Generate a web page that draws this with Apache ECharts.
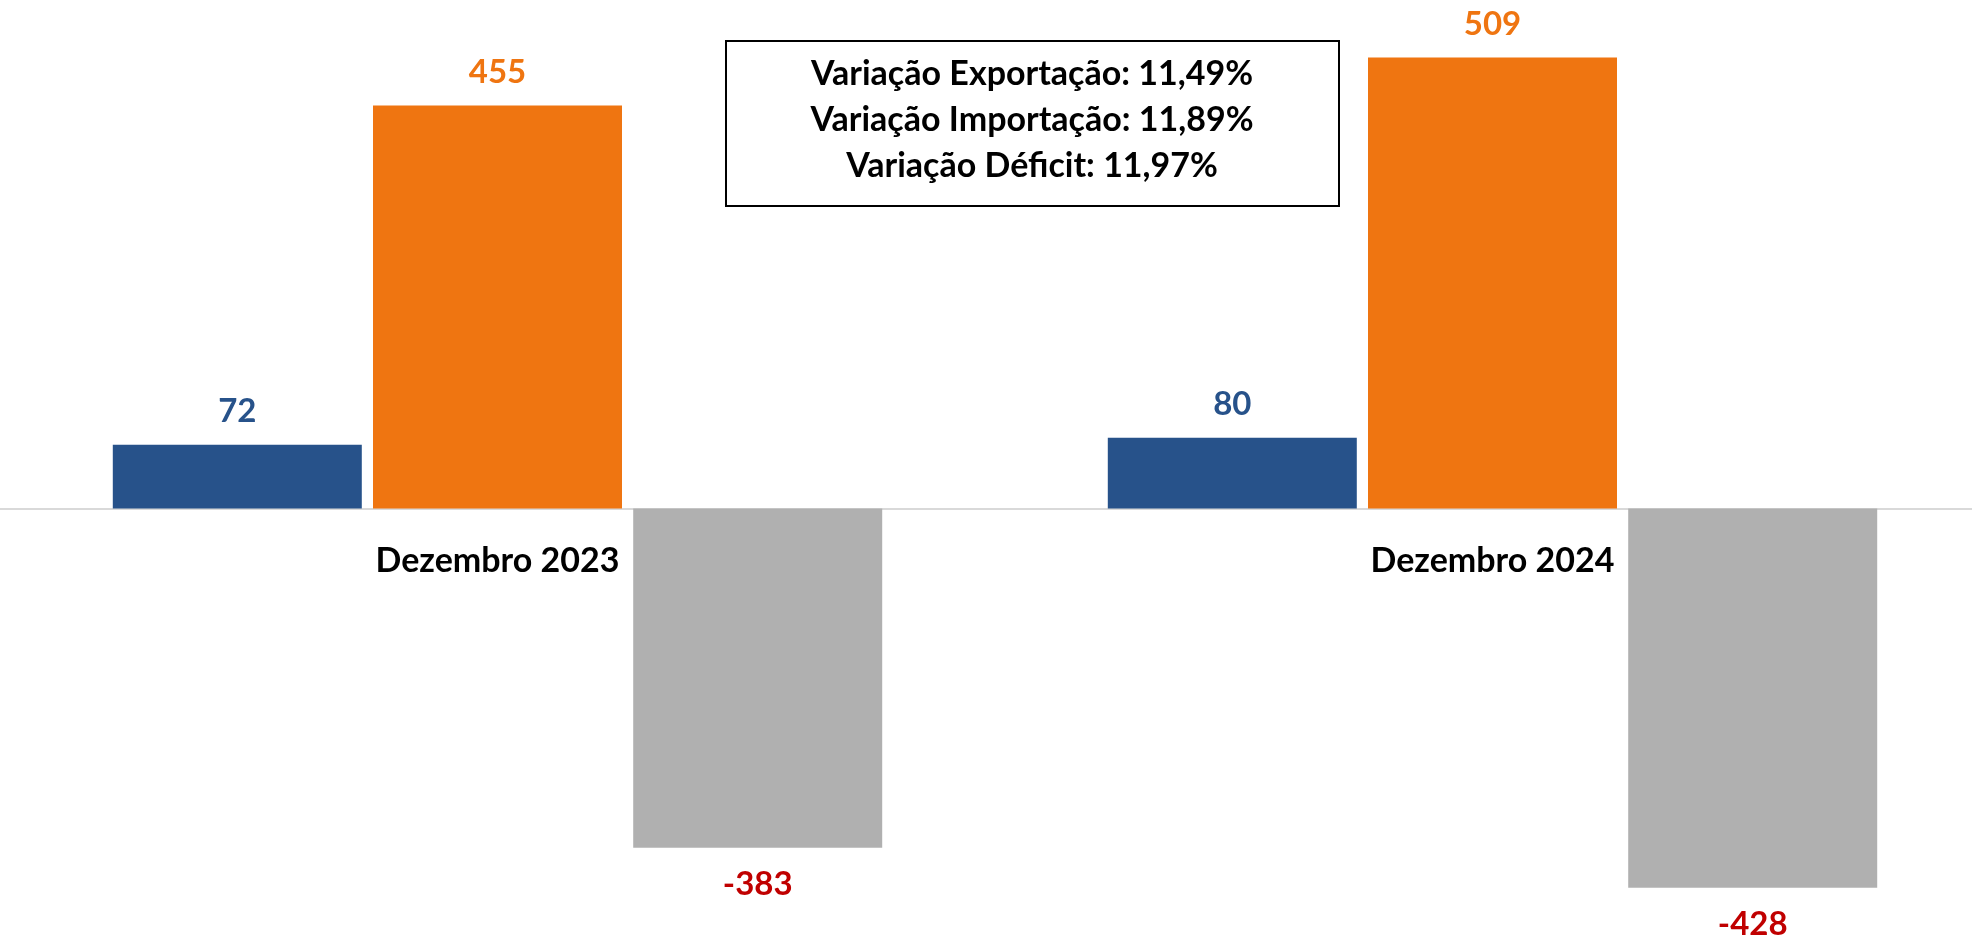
<!DOCTYPE html>
<html lang="pt-BR">
<head>
<meta charset="utf-8">
<title>Balança Comercial - Dezembro</title>
<script src="https://cdn.jsdelivr.net/npm/echarts@6/dist/echarts.min.js"></script>
<style>
    html, body { margin: 0; padding: 0; background: #FFFFFF; }
    #chart { width: 1972px; height: 938px; }
</style>
</head>
<body>
<div id="chart"></div>
<script>
// --- Dados ---
const categorias = ['Dezembro 2023', 'Dezembro 2024'];
const exportacao = [72, 80];
const importacao = [455, 509];
const deficit = [-383, -428];

const variacaoRotulos = ['Variação Exportação: ', 'Variação Importação: ', 'Variação Déficit: '];
const variacaoValores = ['11,49%', '11,89%', '11,97%'];

document.addEventListener('DOMContentLoaded', () => {
    const chart = echarts.init(document.getElementById('chart'));
    const fonte = 'Lato, "Open Sans", sans-serif';

    // grade: zero do eixo em ~508px
    const gridTop = 47.8, gridHeight = 886, yMin = -480, yMax = 520;
    const zeroY = gridTop + gridHeight * yMax / (yMax - yMin);
    const offsetEixo = zeroY - (gridTop + gridHeight);

    const rotulo = (cor, posicao, distancia) => ({
        show: true, position: posicao, distance: distancia,
        color: cor, fontFamily: fonte, fontWeight: 'bold', fontSize: 33
    });

    // Caixa de variações
    const linhasCaixa = variacaoRotulos.map((r, i) => `{a|${r}}{b|${variacaoValores[i]}}`).join('\n');

    const option = {
        backgroundColor: '#FFFFFF',
        animation: false,
        grid: { left: 0, top: gridTop, width: 1990, height: gridHeight, outerBoundsMode: 'none', containLabel: false },
        xAxis: {
            type: 'category',
            data: categorias,
            position: 'bottom',
            offset: offsetEixo,
            axisLine: { onZero: false, lineStyle: { color: '#D9D9D9', width: 2 } },
            axisTick: { show: false },
            axisLabel: { margin: 36, color: '#000000', fontFamily: fonte, fontWeight: 'bold', fontSize: 34 }
        },
        yAxis: { type: 'value', min: yMin, max: yMax, show: false, splitLine: { show: false } },
        series: [
            { name: 'Exportação', type: 'bar', data: exportacao, barWidth: 249, barGap: '4.5%',
              itemStyle: { color: '#27528A' }, label: rotulo('#27528A', 'top', 17) },
            { name: 'Importação', type: 'bar', data: importacao, barWidth: 249, barGap: '4.5%',
              itemStyle: { color: '#EF7511' }, label: rotulo('#EF7511', 'top', 17) },
            { name: 'Déficit', type: 'bar', data: deficit, barWidth: 249, barGap: '4.5%',
              itemStyle: { color: '#B0B0B0' }, label: rotulo('#C00000', 'bottom', 20) }
        ],
        graphic: [
            { type: 'rect', shape: { x: 726, y: 41, width: 613, height: 165 },
              style: { fill: '#FFFFFF', stroke: '#000000', lineWidth: 2 }, z: 10 },
            { type: 'text', x: 1032, y: 120, z: 11,
              style: {
                  text: linhasCaixa, align: 'center', verticalAlign: 'middle',
                  rich: {
                      a: { fontFamily: fonte, fontWeight: 'bold', fontSize: 34, color: '#000000', lineHeight: 46 },
                      b: { fontFamily: fonte, fontWeight: 'bold', fontSize: 34, color: '#1B3A7E', lineHeight: 46 }
                  }
              } }
        ]
    };

    chart.setOption(option);
});
</script>
</body>
</html>
